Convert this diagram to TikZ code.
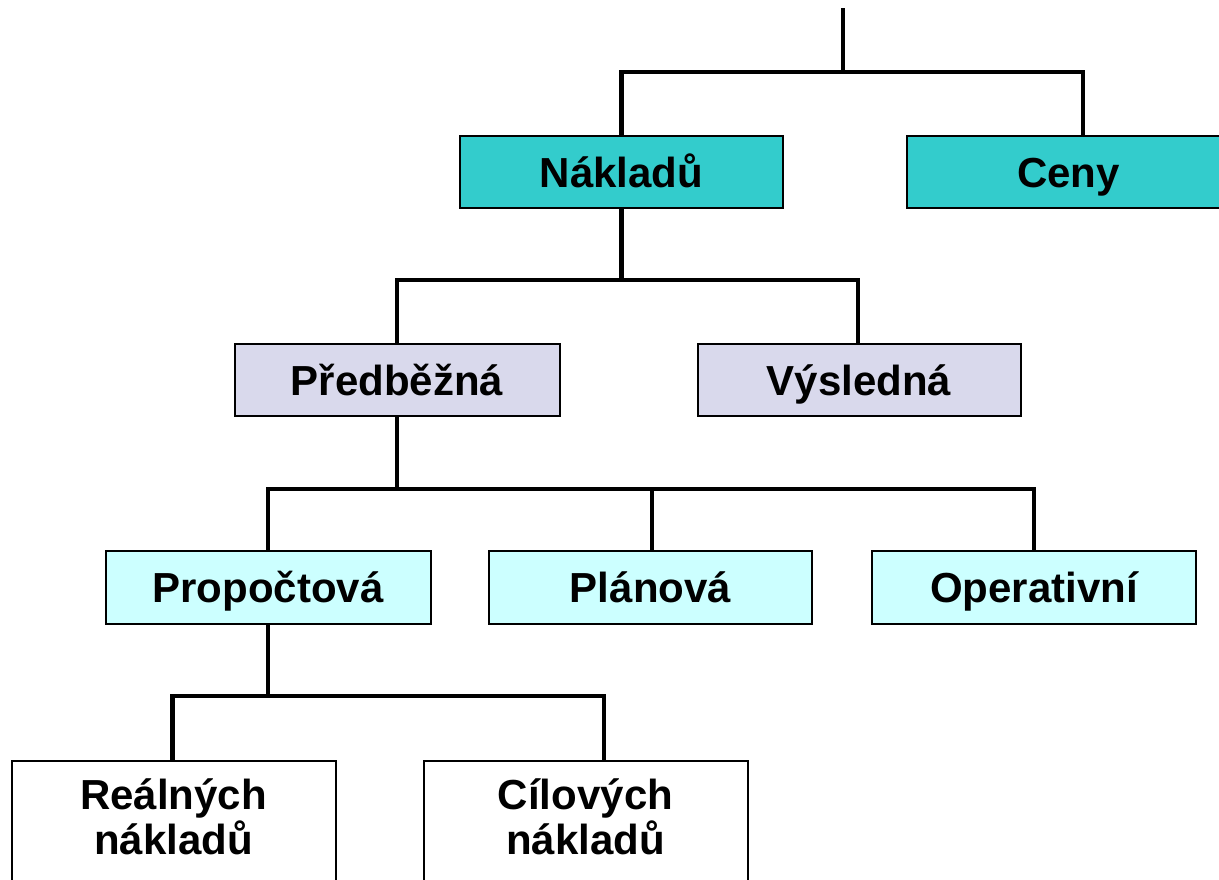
\documentclass[tikz,border=0pt]{standalone}
\usepackage{fontspec}
\setmainfont{Liberation Sans}
\definecolor{tealbox}{HTML}{33CCCC}
\definecolor{lavbox}{HTML}{D9D9EC}
\definecolor{cyanbox}{HTML}{CCFFFF}
\begin{document}
\begin{tikzpicture}[x=1pt,y=-1pt,
  box/.style={draw=black, line width=2pt, font=\bfseries\fontsize{42}{45}\selectfont,
    inner sep=0pt, align=center, text height=30pt, text depth=0pt, minimum height=72pt},
  twoline/.style={draw=black, line width=2pt, font=\bfseries\fontsize{42}{45}\selectfont,
    inner xsep=0pt, inner ysep=18pt, align=center, text height=75pt, text depth=25pt, anchor=north},
  conn/.style={line width=4.5pt}]
\useasboundingbox (0,0) rectangle (1219,879);
\fill[white] (0,0) rectangle (1219,879);
\clip (0,0) rectangle (1219,879);

% level 1
\node[box, fill=tealbox, minimum width=323pt] (naklady) at (621.5,172) {Nákladů};
\node[box, fill=tealbox, minimum width=323pt] (ceny) at (1068.5,172) {Ceny};
% level 2
\node[box, fill=lavbox, minimum width=325pt] (predb) at (397,380) {Předběžná};
\node[box, fill=lavbox, minimum width=323pt] (vysl) at (859,380) {Výsledná};
% level 3
\node[box, fill=cyanbox, minimum width=325pt, minimum height=73pt] (propo) at (268,587.5) {Propočtová};
\node[box, fill=cyanbox, minimum width=323pt, minimum height=73pt] (plan) at (650.5,587.5) {Plánová};
\node[box, fill=cyanbox, minimum width=324pt, minimum height=73pt] (operat) at (1034,587.5) {Operativní};
% level 4
\node[twoline, fill=white, minimum width=324pt] (real) at (173.5,760) {Reálných\\nákladů};
\node[twoline, fill=white, minimum width=324pt] (cil) at (585.5,760) {Cílových\\nákladů};

% connectors
\coordinate (top) at (843,8);
\coordinate (h1) at (843,72);
\draw[conn] (top) -- (h1);
\draw[conn] (naklady.north) |- (h1) -| ([xshift=14.5pt]ceny.north);

\coordinate (h2) at (621.5,280);
\draw[conn] (naklady.south) -- (h2);
\draw[conn] (predb.north) |- (h2) -| ([xshift=-1pt]vysl.north);

\coordinate (h3) at (397,489);
\draw[conn] (predb.south) -- (h3);
\draw[conn] (propo.north) |- (h3) -| (operat.north);
\draw[conn] (h3) -| ([xshift=1.5pt]plan.north);

\coordinate (h4) at (268,696);
\draw[conn] (propo.south) -- (h4);
\draw[conn] ([xshift=-1pt]real.north) |- (h4) -| ([xshift=18.5pt]cil.north);
\end{tikzpicture}
\end{document}
